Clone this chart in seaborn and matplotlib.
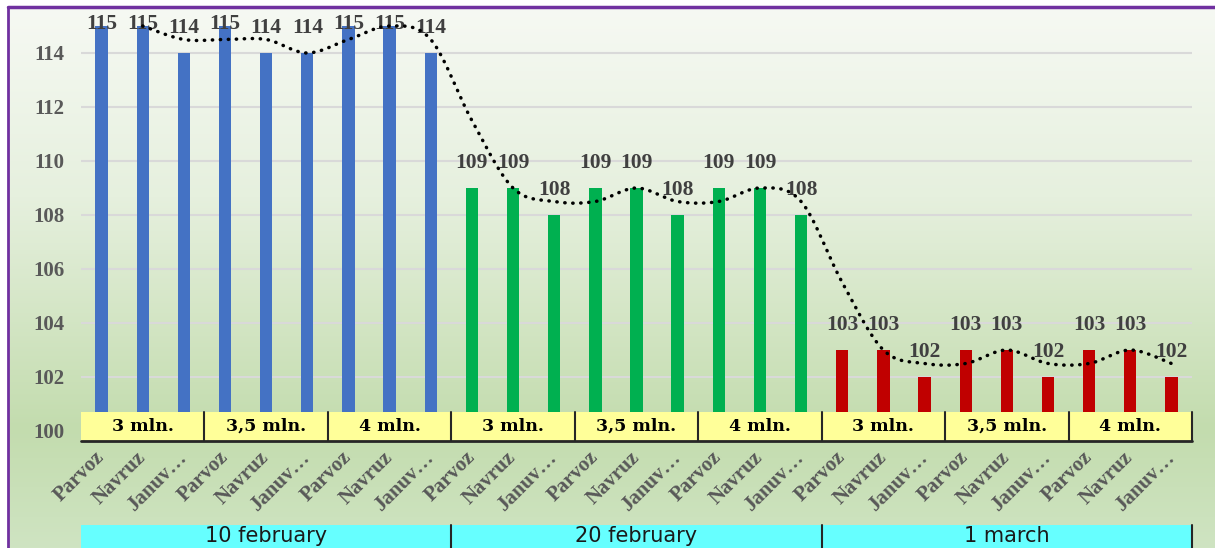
import numpy as np
import pandas as pd
import matplotlib
matplotlib.use("Agg")
import matplotlib.pyplot as plt
import matplotlib.transforms as mtransforms
from matplotlib.colors import LinearSegmentedColormap
import seaborn as sns

# data
dates = ["10 february", "20 february", "1 march"]
amounts = ["3 mln.", "3,5 mln.", "4 mln."]
banks = ["Parvoz", "Navruz", "Januv…"]
vals_10feb = [115, 115, 114, 115, 114, 114, 115, 115, 114]
vals_20feb = [109, 109, 108, 109, 109, 108, 109, 109, 108]
vals_1mar = [103, 103, 102, 103, 103, 102, 103, 103, 102]
date_colors = ["#4472C4", "#00B050", "#C00000"]

rows = []
for d, vals in zip(dates, [vals_10feb, vals_20feb, vals_1mar]):
    for i, v in enumerate(vals):
        rows.append({"date": d, "amount": amounts[i // 3], "bank": banks[i % 3],
                     "key": f"{d}|{amounts[i // 3]}|{banks[i % 3]}", "value": v})
df = pd.DataFrame(rows)

sns.set_style("white")
plt.rcParams["font.family"] = ["Liberation Serif", "DejaVu Serif"]

W, H = 1215, 548
fig = plt.figure(figsize=(W / 100, H / 100), dpi=100)

# gradient background inside the purple frame
bg = fig.add_axes([8 / W, 0, 1 - 8 / W, 1 - 7 / H])
cmap = LinearSegmentedColormap.from_list(
    "bg", [(0, "#f6f9f3"), (0.35, "#e6f0de"), (0.78, "#c3dcae"), (1, "#cfe4c2")])
bg.imshow(np.linspace(0, 1, 256).reshape(-1, 1), aspect="auto", cmap=cmap,
          extent=[0, 1, 0, 1], origin="upper")
bg.set_axis_off()
fig.add_artist(plt.Line2D([8 / W, 8 / W], [0, 1 - 7 / H], color="#7030A0", lw=2))
fig.add_artist(plt.Line2D([8 / W, 1], [1 - 7 / H, 1 - 7 / H], color="#7030A0", lw=2.5))

ax = fig.add_axes([81 / W, 1 - 431 / H, (1192 - 81) / W, (431 - 12.5) / H])
ax.set_facecolor("none")

sns.barplot(data=df, x="key", y="value", hue="date", palette=date_colors,
            dodge=False, width=0.3, legend=False, ax=ax, saturation=1,
            edgecolor="none", linewidth=0)

ax.set_ylim(100, 115.5)
ax.set_xlim(-0.5, len(df) - 0.5)
ax.set_yticks(range(100, 115, 2))
ax.yaxis.grid(True, color="#d9d9d9", lw=1.5)
ax.set_axisbelow(True)
for s in ax.spines.values():
    s.set_visible(False)
ax.tick_params(axis="y", length=0, pad=12, labelsize=15, labelcolor="#595959")
for t in ax.get_yticklabels():
    t.set_fontweight("bold")
ax.set_xlabel("")
ax.set_ylabel("")

ax.set_xticks(range(len(df)))
ax.set_xticklabels(df["bank"], rotation=45, ha="right", va="center",
                   rotation_mode="anchor", fontsize=15, fontweight="bold", color="#595959")
ax.tick_params(axis="x", length=0, pad=17)

# value labels
for i, v in enumerate(df["value"]):
    ax.text(i, min(v + 0.92, 115.07), str(v), ha="center", va="center",
            fontsize=15.5, fontweight="bold", color="#404040")

# 2-period moving average trendline, smoothed
ma = df["value"].rolling(2).mean().to_numpy()[1:]
mx = np.arange(1, len(df))
pts = np.column_stack([mx, ma])
ext = np.vstack([pts[0], pts, pts[-1]])
curve = []
for k in range(len(pts) - 1):
    p0, p1, p2, p3 = ext[k], ext[k + 1], ext[k + 2], ext[k + 3]
    for t in np.linspace(0, 1, 20, endpoint=False):
        curve.append(0.5 * ((2 * p1) + (-p0 + p2) * t + (2 * p0 - 5 * p1 + 4 * p2 - p3) * t ** 2
                            + (-p0 + 3 * p1 - 3 * p2 + p3) * t ** 3))
curve.append(pts[-1])
curve = np.array(curve)
ax.plot(curve[:, 0], curve[:, 1], color="black", lw=2.5,
        linestyle=(0, (0.1, 2.2)), dash_capstyle="round", zorder=4)

# multi-level category boxes
tr = mtransforms.blended_transform_factory(ax.transData, ax.transAxes)
ax_h = 431 - 12.5
y_top = (431 - 412) / ax_h
y_bot = (431 - 441) / ax_h
for g in range(9):
    x0 = -0.5 + 3 * g
    ax.add_patch(plt.Rectangle((x0, y_bot), 3, y_top - y_bot, transform=tr,
                               facecolor="#FFFF99", edgecolor="none", clip_on=False, zorder=5))
    ax.plot([x0 + 3, x0 + 3], [y_bot, y_top], transform=tr, color="#262626", lw=1.5,
            clip_on=False, zorder=6)
    ax.text(x0 + 1.5, (y_top + y_bot) / 2, amounts[g % 3], transform=tr, ha="center",
            va="center", fontsize=12.5, fontweight="bold", family="DejaVu Serif",
            color="black", clip_on=False, zorder=7)
ax.plot([-0.5, len(df) - 0.5], [y_bot, y_bot], transform=tr, color="#262626", lw=2,
        clip_on=False, zorder=6)

c_top = (431 - 525) / ax_h
c_bot = (431 - 560) / ax_h
for j, d in enumerate(dates):
    x0 = -0.5 + 9 * j
    ax.add_patch(plt.Rectangle((x0, c_bot), 9, c_top - c_bot, transform=tr,
                               facecolor="#66FFFF", edgecolor="none", clip_on=False, zorder=5))
    ax.plot([x0 + 9, x0 + 9], [c_bot, c_top], transform=tr, color="#262626", lw=1.5,
            clip_on=False, zorder=6)
    ax.text(x0 + 4.5, (431 - 542) / ax_h, d, transform=tr, ha="center", va="baseline",
            fontsize=15, family="DejaVu Sans", color="#1a1a1a", clip_on=False, zorder=7)

fig.savefig("out.png", dpi=100)
